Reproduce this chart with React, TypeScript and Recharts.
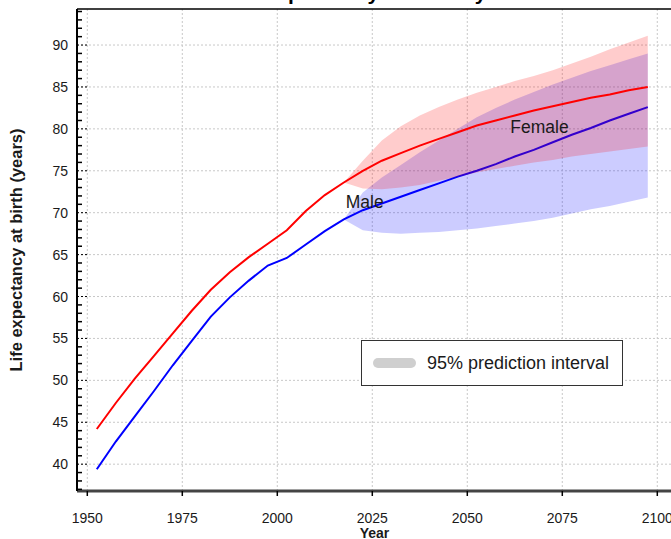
import { ComposedChart, Area, Line, XAxis, YAxis, CartesianGrid, ReferenceLine, ReferenceDot, Legend } from "recharts";

// period midpoints (5-year periods)
const years = [
  1952.5, 1957.5, 1962.5, 1967.5, 1972.5, 1977.5, 1982.5, 1987.5, 1992.5, 1997.5,
  2002.5, 2007.5, 2012.5, 2017.5, 2022.5, 2027.5, 2032.5, 2037.5, 2042.5, 2047.5,
  2052.5, 2057.5, 2062.5, 2067.5, 2072.5, 2077.5, 2082.5, 2087.5, 2092.5, 2097.5,
];
const female = [
  44.2, 47.3, 50.2, 52.9, 55.6, 58.3, 60.8, 62.9, 64.7, 66.3,
  67.9, 70.2, 72.1, 73.6, 75.0, 76.2, 77.1, 78.0, 78.8, 79.6,
  80.4, 81.0, 81.6, 82.2, 82.7, 83.2, 83.7, 84.1, 84.6, 85.0,
];
const male = [
  39.4, 42.7, 45.7, 48.7, 51.8, 54.7, 57.6, 59.9, 61.9, 63.7,
  64.6, 66.2, 67.8, 69.2, 70.3, 71.1, 71.9, 72.7, 73.5, 74.3,
  75.0, 75.8, 76.7, 77.5, 78.4, 79.3, 80.1, 81.0, 81.8, 82.6,
];

// 95% prediction intervals, from 2017.5 onwards
const bandStart = 2017.5;
const femaleLow = [73.6, 72.9, 72.8, 73.0, 73.3, 73.8, 74.3, 74.8, 75.2, 75.6, 76.0, 76.3, 76.7, 77.0, 77.3, 77.6, 77.9];
const femaleHigh = [73.6, 76.2, 78.6, 80.3, 81.6, 82.6, 83.5, 84.3, 85.0, 85.7, 86.3, 87.0, 87.8, 88.6, 89.5, 90.3, 91.1];
const maleLow = [69.2, 67.9, 67.6, 67.5, 67.6, 67.7, 67.9, 68.1, 68.4, 68.7, 69.0, 69.4, 69.9, 70.4, 70.8, 71.3, 71.8];
const maleHigh = [69.2, 72.4, 74.2, 75.7, 77.2, 78.6, 80.0, 81.4, 82.5, 83.5, 84.4, 85.3, 86.1, 86.9, 87.6, 88.3, 89.0];

const xTicks = [1950, 1975, 2000, 2025, 2050, 2075, 2100];
const yMajor = [40, 45, 50, 55, 60, 65, 70, 75, 80, 85, 90];
const yMinor = [
  37, 38, 39, 40, 41, 42, 43, 44, 45, 46, 47, 48, 49, 50, 51, 52, 53, 54, 55, 56, 57, 58, 59, 60, 61, 62, 63, 64, 65,
  66, 67, 68, 69, 70, 71, 72, 73, 74, 75, 76, 77, 78, 79, 80, 81, 82, 83, 84, 85, 86, 87, 88, 89, 90, 91, 92, 93, 94,
];

const X_DOMAIN = [1947.29, 2103.87];
const Y_DOMAIN = [36.8, 94.3];
const FONT = '"Liberation Sans", Arial, Helvetica, sans-serif';

const first = years.indexOf(bandStart);
const data = years.map((year, i) => {
  const j = i - first;
  return {
    year,
    female: female[i],
    male: male[i],
    femaleBand: j >= 0 ? [femaleLow[j], femaleHigh[j]] : undefined,
    maleBand: j >= 0 ? [maleLow[j], maleHigh[j]] : undefined,
  };
});

const YTick = (props: any) => {
  const { x, y, payload } = props;
  const v = payload.value;
  const major = v % 5 === 0;
  return (
    <g>
      {major ? (
        <line x1={x} x2={x + 10} y1={y} y2={y} stroke="#000" strokeDasharray="2 2" />
      ) : (
        <line x1={x} x2={x + 5} y1={y} y2={y} stroke="#000" strokeWidth={1.5} />
      )}
      {major && (
        <text x={x - 9} y={y} dy="0.36em" textAnchor="end" fontSize={14} fill="#1a1a1a">
          {v}
        </text>
      )}
    </g>
  );
};

const LegendBox = () => (
  <div
    style={{
      boxSizing: "border-box",
      width: 262,
      height: 46,
      border: "1.5px solid #333",
      background: "#fff",
      display: "flex",
      alignItems: "center",
      fontFamily: FONT,
    }}
  >
    <span style={{ display: "inline-block", width: 43, height: 10, borderRadius: 5, background: "#cfcfcf", marginLeft: 11 }} />
    <span style={{ marginLeft: 11, fontSize: 18, color: "#1a1a1a", whiteSpace: "nowrap" }}>95% prediction interval</span>
  </div>
);

export default function App() {
  return (
    <div
      style={{
        position: "absolute",
        left: 0,
        top: 0,
        width: 671,
        height: 539,
        overflow: "hidden",
        background: "#fff",
        fontFamily: FONT,
      }}
    >
      {/* title, mostly cut off at the top */}
      <div
        style={{
          position: "absolute",
          left: 0,
          top: -18.3,
          width: 749,
          textAlign: "center",
          fontSize: 21,
          lineHeight: "21px",
          fontWeight: "bold",
          color: "#000",
          whiteSpace: "nowrap",
        }}
      >
        Life expectancy at birth by sex
      </div>
      <ComposedChart width={700} height={539} data={data} margin={{ top: 9, right: 28, bottom: 0, left: 0 }}>
        <CartesianGrid
          stroke="#c8c8c8"
          strokeDasharray="2 2"
          horizontalValues={yMajor}
          verticalValues={xTicks}
        />
        <XAxis
          type="number"
          dataKey="year"
          domain={X_DOMAIN}
          allowDataOverflow
          ticks={xTicks}
          interval={0}
          height={48}
          tickSize={5}
          tickMargin={17}
          axisLine={{ stroke: "#444", strokeWidth: 3 }}
          tickLine={{ stroke: "#000", strokeWidth: 1.5 }}
          tick={{ fontSize: 14, fill: "#1a1a1a" }}
          label={{ value: "Year", position: "insideBottom", offset: 1, fontSize: 14, fontWeight: "bold", fill: "#1a1a1a" }}
        />
        <YAxis
          type="number"
          domain={Y_DOMAIN}
          allowDataOverflow
          ticks={yMinor}
          interval={0}
          width={77}
          tickSize={0}
          tickMargin={0}
          axisLine={{ stroke: "#000", strokeWidth: 2 }}
          tickLine={false}
          tick={YTick}
          label={{
            value: "Life expectancy at birth (years)",
            angle: -90,
            position: "insideLeft",
            offset: 16,
            fontSize: 16.5,
            fontWeight: "bold",
            fill: "#1a1a1a",
            style: { textAnchor: "middle" },
          }}
        />
        <ReferenceLine y={Y_DOMAIN[1]} stroke="#000" strokeWidth={1.5} />
        <Area
          dataKey="maleBand"
          stroke="none"
          fill="#0000ff"
          fillOpacity={0.2}
          isAnimationActive={false}
          type="linear"
          zIndex={100}
        />
        <Line dataKey="male" stroke="#0000ff" strokeWidth={2} dot={false} type="linear" isAnimationActive={false} zIndex={150} />
        <Area
          dataKey="femaleBand"
          stroke="none"
          fill="#ff0000"
          fillOpacity={0.2}
          isAnimationActive={false}
          type="linear"
          zIndex={200}
        />
        <Line dataKey="female" stroke="#ff0000" strokeWidth={2} dot={false} type="linear" isAnimationActive={false} zIndex={400} />
        <ReferenceDot
          x={2023}
          y={71.3}
          r={0}
          stroke="none"
          label={{ value: "Male", position: "center", fontSize: 17.5, fill: "#1a1a1a" }}
        />
        <ReferenceDot
          x={2069}
          y={80.25}
          r={0}
          stroke="none"
          label={{ value: "Female", position: "center", fontSize: 17.5, fill: "#1a1a1a" }}
        />
        <Legend
          layout="vertical"
          align="center"
          verticalAlign="middle"
          content={LegendBox}
          wrapperStyle={{ left: 361, top: 340, width: 262, height: 46 }}
        />
      </ComposedChart>
    </div>
  );
}
